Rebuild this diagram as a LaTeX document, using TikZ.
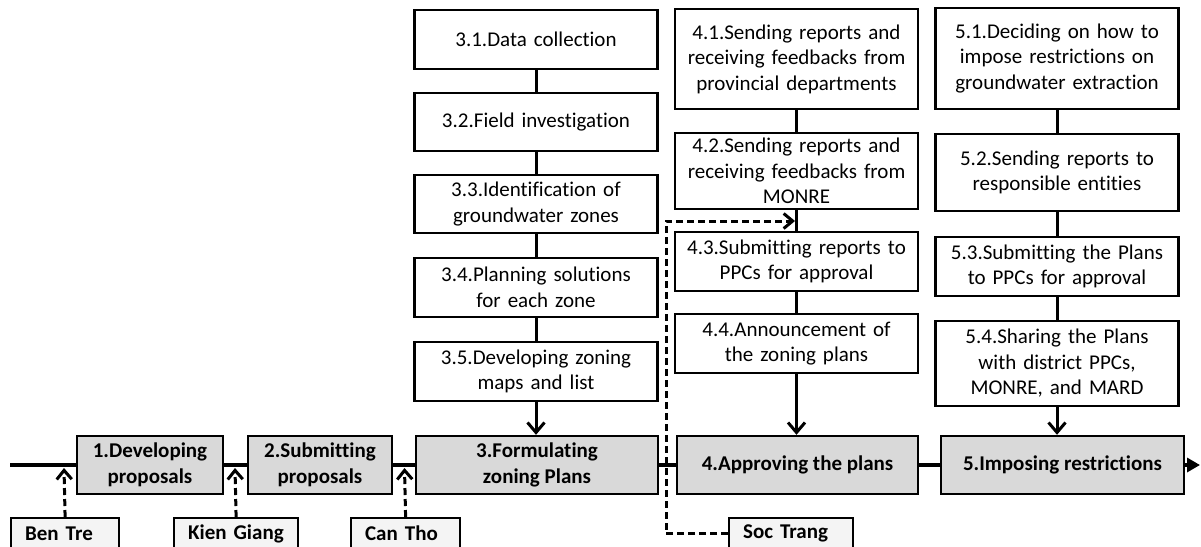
\documentclass[tikz,border=0pt]{standalone}
\usepackage{fontspec}
\setmainfont{Carlito}[Ligatures=NoCommon]
\usetikzlibrary{arrows.meta}
\definecolor{boxgray}{HTML}{D9D9D9}
\definecolor{labgray}{HTML}{F4F4F4}
\begin{document}
\begin{tikzpicture}[x=1pt,y=-1pt,
  sub/.style={draw, line width=2.2pt, fill=white, minimum width=243pt, text width=237pt,
    align=center, inner xsep=3pt, inner ysep=0pt, font=\fontsize{21}{25.5}\selectfont},
  main/.style={draw, line width=2.4pt, fill=boxgray, minimum height=58pt, inner sep=0pt,
    align=center, font=\bfseries\fontsize{21}{26}\selectfont},
  lab/.style={draw, line width=2.2pt, fill=labgray, minimum height=31pt, inner xsep=14pt,
    inner ysep=0pt, align=left, anchor=north west, font=\bfseries\fontsize{21}{25}\selectfont},
  conn/.style={line width=3pt},
  tipc/.style={-{Straight Barb[length=10pt,width=17pt]}},
  dsh/.style={line width=3pt, dash pattern=on 7pt off 4pt, -{Straight Barb[length=9pt,width=15pt]}},
]
\useasboundingbox (0,0) rectangle (1201,546);

% main line coordinates
\coordinate (start) at (10,465);
\coordinate (end) at (1200,465);

% main boxes
\node[main, minimum width=146pt] (m1) at (150,465) {1.Developing\\proposals};
\node[main, minimum width=144pt] (m2) at (320,465) {2.Submitting\\proposals};
\node[main, minimum width=242pt] (m3) at (537,465) {3.Formulating\\zoning Plans};
\node[main, minimum width=241pt] (m4) at (797.5,465) {4.Approving the plans};
\node[main, minimum width=243pt] (m5) at (1062.5,465) {5.Imposing restrictions};

% main line
\draw[line width=4.5pt] (start) -- (m1.west);
\draw[line width=4.5pt] (m1.east) -- (m2.west);
\draw[line width=4.5pt] (m2.east) -- (m3.west);
\draw[line width=4.5pt] (m3.east) -- (m4.west);
\draw[line width=4.5pt] (m4.east) -- (m5.west);
\draw[line width=4.5pt, -{Triangle[length=13pt,width=14pt]}] (m5.east) -- (end);

% column 3
\node[sub, minimum height=59pt] (s31) at (536,39.5) {3.1.Data collection};
\node[sub, minimum height=58pt] (s32) at (536,122) {3.2.Field investigation};
\node[sub, minimum height=58pt] (s33) at (536,204) {3.3.Identification of\\groundwater zones};
\node[sub, minimum height=59pt] (s34) at (536,287.5) {3.4.Planning solutions\\for each zone};
\node[sub, minimum height=59pt] (s35) at (536,371.5) {3.5.Developing zoning\\maps and list};

% column 4
\node[sub, minimum height=100pt] (s41) at (796.5,59) {4.1.Sending reports and\\receiving feedbacks from\\provincial departments};
\node[sub, minimum height=76pt] (s42) at (796.5,171) {4.2.Sending reports and\\receiving feedbacks from\\MONRE};
\node[sub, minimum height=59pt] (s43) at (796.5,261.5) {4.3.Submitting reports to\\PPCs for approval};
\node[sub, minimum height=59pt] (s44) at (796.5,343.5) {4.4.Announcement of\\the zoning plans};

% column 5
\node[sub, minimum height=101pt] (s51) at (1057,58.5) {5.1.Deciding on how to\\impose restrictions on\\groundwater extraction};
\node[sub, minimum height=77pt] (s52) at (1057,172.5) {5.2.Sending reports to\\responsible entities};
\node[sub, minimum height=59pt] (s53) at (1057,266.5) {5.3.Submitting the Plans\\to PPCs for approval};
\node[sub, minimum height=85pt] (s54) at (1057,363.5) {5.4.Sharing the Plans\\with district PPCs,\\MONRE, and MARD};

% column connectors
\draw[conn] (s31) -- (s32);
\draw[conn] (s32) -- (s33);
\draw[conn] (s33) -- (s34);
\draw[conn] (s34) -- (s35);
\draw[conn, tipc] (s35.south) -- (s35.south |- m3.north);

\draw[conn] (s41) -- (s42);
\draw[conn] (s42) -- (s43);
\draw[conn] (s43) -- (s44);
\draw[conn, tipc] (s44.south) -- (s44.south |- m4.north);

\draw[conn] (s51) -- (s52);
\draw[conn] (s52) -- (s53);
\draw[conn] (s53) -- (s54);
\draw[conn, tipc] (s54.south) -- (s54.south |- m5.north);

% province labels
\node[lab, minimum width=108pt, text width=80pt] (ben) at (10,517) {Ben Tre};
\node[lab, minimum width=124pt, text width=96pt] (kien) at (173,517) {Kien Giang};
\node[lab, minimum width=109pt, text width=81pt] (can) at (350,517) {Can Tho};
\node[lab, minimum width=124pt, text width=96pt] (soc) at (728,517) {Soc Trang};

% dashed arrows
\coordinate (a1) at (64,468);
\coordinate (a2) at (235,468);
\coordinate (a3) at (404.5,468);
\coordinate (sc) at (666,221);
\coordinate (t4) at (795,221);
\draw[dsh] (ben.north) -- (a1);
\draw[dsh] (kien.north) -- (a2);
\draw[dsh] (can.north) -- (a3);
\draw[dsh] (soc.west) -| (sc) -- (t4);
\end{tikzpicture}
\end{document}
